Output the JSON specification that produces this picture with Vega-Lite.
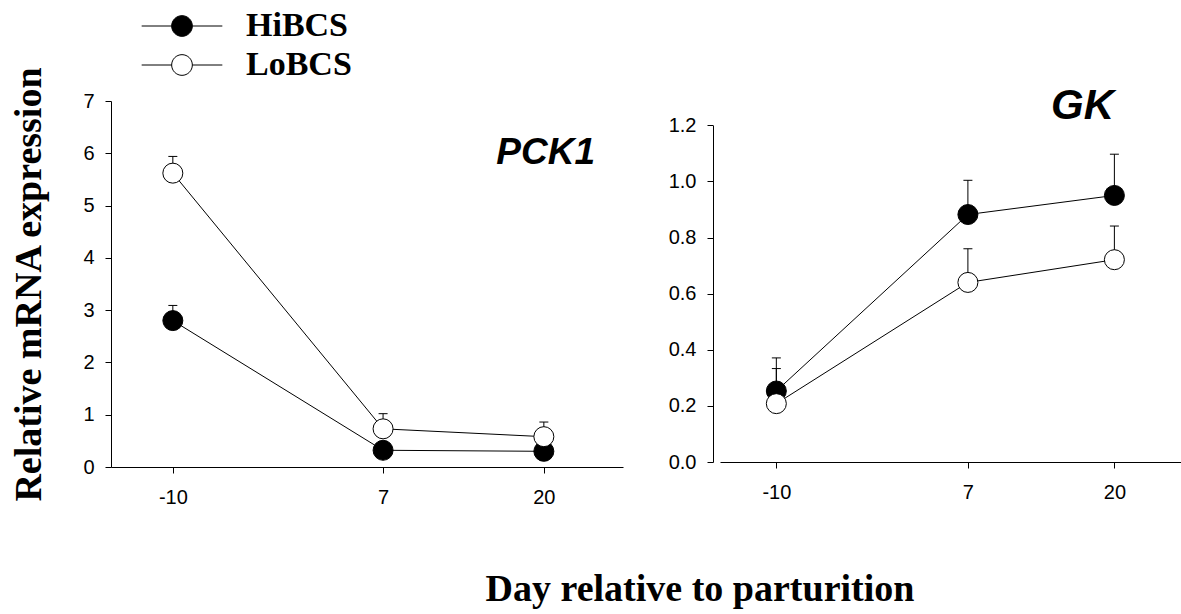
{
  "$schema": "https://vega.github.io/schema/vega-lite/v6.json",
  "background": "white",
  "padding": {"left": 10, "top": 9, "right": 0, "bottom": 0},
  "bounds": "flush",
  "spacing": 97,
  "datasets": {
    "pck1": [
      {"group": "HiBCS", "day": -10, "mean": 2.8, "upper": 3.09},
      {"group": "HiBCS", "day": 7, "mean": 0.32, "upper": 0.4},
      {"group": "HiBCS", "day": 20, "mean": 0.3, "upper": 0.38},
      {"group": "LoBCS", "day": -10, "mean": 5.62, "upper": 5.94},
      {"group": "LoBCS", "day": 7, "mean": 0.73, "upper": 1.02},
      {"group": "LoBCS", "day": 20, "mean": 0.58, "upper": 0.86}
    ],
    "gk": [
      {"group": "HiBCS", "day": -10, "mean": 0.253, "upper": 0.371},
      {"group": "HiBCS", "day": 7, "mean": 0.882, "upper": 1.004},
      {"group": "HiBCS", "day": 20, "mean": 0.95, "upper": 1.097},
      {"group": "LoBCS", "day": -10, "mean": 0.208, "upper": 0.333},
      {"group": "LoBCS", "day": 7, "mean": 0.64, "upper": 0.76},
      {"group": "LoBCS", "day": 20, "mean": 0.721, "upper": 0.841}
    ]
  },
  "config": {
    "view": {"stroke": null},
    "axis": {
      "grid": false, "domainColor": "black", "tickColor": "black", "labelColor": "black",
      "labelFont": "Liberation Sans", "labelFontSize": 20, "tickSize": 6, "domainWidth": 1,
      "tickWidth": 1, "labelPadding": 11, "titleFont": "Liberation Serif",
      "titleFontWeight": "bold", "titleColor": "black"
    },
    "axisX": {"labelPadding": 14},
    "legend": {
      "orient": "none", "legendX": 54, "legendY": -92, "title": null,
      "symbolType": "M-3.9,0L-1,0M1,0L3.9,0M1,0A1,1,0,1,1,-1,0A1,1,0,1,1,1,0Z",
      "symbolSize": 428, "symbolStrokeColor": "black", "symbolStrokeWidth": 1,
      "labelFont": "Liberation Serif", "labelFontWeight": "bold", "labelFontSize": 34,
      "labelColor": "black", "labelOffset": 47, "rowPadding": 5, "padding": 0
    }
  },
  "title": {
    "text": "Day relative to parturition", "orient": "bottom", "anchor": "start", "align": "center",
    "frame": "group", "dx": 589, "offset": 94, "font": "Liberation Serif", "fontSize": 38,
    "fontWeight": "bold", "color": "black", "baseline": "alphabetic"
  },
  "hconcat": [
    {
      "width": 512,
      "height": 366,
      "data": {"name": "pck1"},
      "title": {
        "text": "PCK1", "anchor": "end", "frame": "group", "orient": "top", "offset": -135, "dx": -28,
        "font": "Liberation Sans", "fontSize": 37, "fontStyle": "italic", "fontWeight": "bold",
        "color": "black", "baseline": "alphabetic"
      },
      "encoding": {
        "x": {
          "field": "day", "type": "quantitative",
          "scale": {"domain": [-15, 26.4], "nice": false, "zero": false},
          "axis": {"values": [-10, 7, 20], "title": null, "labelExpr": "'' + datum.value"}
        }
      },
      "layer": [
        {
          "mark": {"type": "line", "color": "black", "strokeWidth": 1},
          "encoding": {
            "y": {
              "field": "mean", "type": "quantitative",
              "scale": {"domain": [0, 7], "nice": false},
              "axis": {"values": [0, 1, 2, 3, 4, 5, 6, 7], "labelExpr": "'' + datum.value", "title": "Relative mRNA expression", "titlePadding": 34, "titleFontSize": 38}
            },
            "detail": {"field": "group"}
          }
        },
        {
          "mark": {"type": "rule", "color": "black", "strokeWidth": 1},
          "encoding": {
            "y": {"field": "mean", "type": "quantitative"},
            "y2": {"field": "upper"}
          }
        },
        {
          "mark": {"type": "tick", "orient": "horizontal", "size": 9, "thickness": 1, "color": "black", "opacity": 1},
          "encoding": {"y": {"field": "upper", "type": "quantitative"}}
        },
        {
          "mark": {"type": "point", "shape": "circle", "filled": true, "size": 400, "stroke": "black", "strokeWidth": 1, "opacity": 1},
          "encoding": {
            "y": {"field": "mean", "type": "quantitative"},
            "fill": {
              "field": "group", "type": "nominal",
              "scale": {"domain": ["HiBCS", "LoBCS"], "range": ["black", "white"]}
            }
          }
        }
      ]
    },
    {
      "width": 462,
      "height": 361,
      "data": {"name": "gk"},
      "title": {
        "text": "GK", "anchor": "end", "frame": "group", "orient": "top", "offset": -60, "dx": -68,
        "font": "Liberation Sans", "fontSize": 42, "fontStyle": "italic", "fontWeight": "bold",
        "color": "black", "baseline": "alphabetic"
      },
      "encoding": {
        "x": {
          "field": "day", "type": "quantitative",
          "scale": {"domain": [-15, 26], "nice": false, "zero": false},
          "axis": {"values": [-10, 7, 20], "title": null, "labelExpr": "'' + datum.value"}
        }
      },
      "layer": [
        {
          "mark": {"type": "line", "color": "black", "strokeWidth": 1},
          "encoding": {
            "y": {
              "field": "mean", "type": "quantitative",
              "scale": {"domain": [0, 1.2], "nice": false, "range": [361, 24.3]},
              "axis": {"values": [0, 0.2, 0.4, 0.6, 0.8, 1.0, 1.2], "format": ".1f", "title": null, "offset": 7}
            },
            "detail": {"field": "group"}
          }
        },
        {
          "mark": {"type": "rule", "color": "black", "strokeWidth": 1},
          "encoding": {
            "y": {"field": "mean", "type": "quantitative"},
            "y2": {"field": "upper"}
          }
        },
        {
          "mark": {"type": "tick", "orient": "horizontal", "size": 9, "thickness": 1, "color": "black", "opacity": 1},
          "encoding": {"y": {"field": "upper", "type": "quantitative"}}
        },
        {
          "mark": {"type": "point", "shape": "circle", "filled": true, "size": 400, "stroke": "black", "strokeWidth": 1, "opacity": 1},
          "encoding": {
            "y": {"field": "mean", "type": "quantitative"},
            "fill": {
              "field": "group", "type": "nominal",
              "scale": {"domain": ["HiBCS", "LoBCS"], "range": ["black", "white"]}
            }
          }
        }
      ]
    }
  ]
}
